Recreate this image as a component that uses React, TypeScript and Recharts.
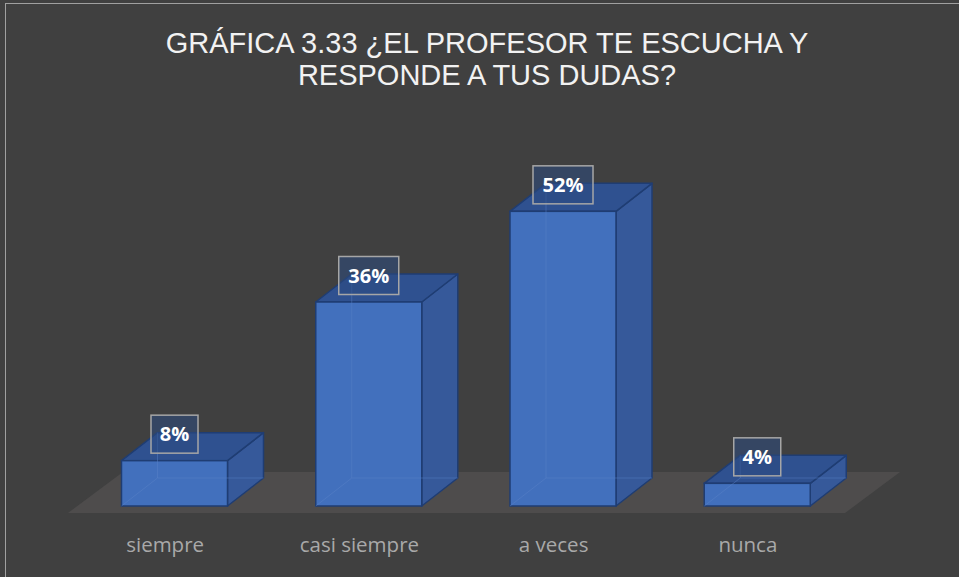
import React from 'react';
import { BarChart, Bar, XAxis, YAxis, ReferenceArea, LabelList } from 'recharts';

const categories = ['siempre', 'casi siempre', 'a veces', 'nunca'];
const percentages = [8, 36, 52, 4];
const valueLabels = ['8%', '36%', '52%', '4%'];
const yDomain = [0, 60];
const titleLines = ['GRÁFICA 3.33 ¿EL PROFESOR TE ESCUCHA Y', 'RESPONDE A TUS DUDAS?'];

const data = categories.map((c, i) => ({ name: c, value: percentages[i], label: valueLabels[i] }));

const W = 959;
const H = 577;
const BAR_DX = 36;
const BAR_DY = -28;
const SHIFT = 9.5;
const FLOOR_DX = 55;
const FLOOR_DY = -41;
const FLOOR_DROP = 7;

const FRONT = '#4270bd';
const TOP = '#2f5190';
const SIDE = '#36599a';
const EDGE = '#1f3d73';

function Bar3D(props: any) {
  const { x, y, width, height } = props;
  if (x == null || y == null) return null;
  const x0 = x + SHIFT;
  const w = width;
  const h = height;
  const top = `${x0},${y} ${x0 + BAR_DX},${y + BAR_DY} ${x0 + w + BAR_DX},${y + BAR_DY} ${x0 + w},${y}`;
  const side = `${x0 + w},${y} ${x0 + w + BAR_DX},${y + BAR_DY} ${x0 + w + BAR_DX},${y + h + BAR_DY} ${x0 + w},${y + h}`;
  return (
    <g>
      <polygon points={side} fill={SIDE} stroke={EDGE} strokeWidth={1.5} strokeLinejoin="round" />
      <polygon points={top} fill={TOP} stroke={EDGE} strokeWidth={1.5} strokeLinejoin="round" />
      <rect x={x0} y={y} width={w} height={h} fill={FRONT} stroke={EDGE} strokeWidth={1.5} />
      <g stroke="#5a82c8" strokeOpacity={0.45} strokeWidth={1} fill="none">
        <line x1={x0} y1={y + h} x2={x0 + BAR_DX} y2={y + h + BAR_DY} />
        <line x1={x0 + BAR_DX} y1={y + h + BAR_DY} x2={x0 + w + BAR_DX} y2={y + h + BAR_DY} />
        <line x1={x0 + BAR_DX} y1={y + BAR_DY} x2={x0 + BAR_DX} y2={y + h + BAR_DY} />
      </g>
    </g>
  );
}

function Floor(props: any) {
  const { x, y, width, height } = props;
  if (x == null || y == null) return null;
  const b = y + height + FLOOR_DROP;
  const pts = `${x},${b} ${x + width},${b} ${x + width + FLOOR_DX},${b + FLOOR_DY} ${x + FLOOR_DX},${b + FLOOR_DY}`;
  return <polygon points={pts} fill="#4e4c4c" stroke="none" />;
}

function ValueLabel(props: any) {
  const { x, y, width, value } = props;
  if (x == null || y == null) return null;
  const text = String(value);
  const cx = x + width / 2 + SHIFT;
  const cy = y - 26.5;
  const bw = 21 + 13 * text.length;
  const bh = 38;
  return (
    <g>
      <rect x={cx - bw / 2} y={cy - bh / 2} width={bw} height={bh} fill="#2b4a80" fillOpacity={0.55} stroke="#a6a6a6" strokeWidth={1.5} />
      <text x={cx} y={cy + 7} textAnchor="middle" fill="#ffffff" fontFamily="'Open Sans', 'Noto Sans', sans-serif" fontWeight={700} fontSize={20}>
        {text}
      </text>
    </g>
  );
}

function CategoryTick(props: any) {
  const { x, y, payload } = props;
  return (
    <text x={x} y={y + 46} textAnchor="middle" fill="#a9a9a9" fontFamily="'Open Sans', 'Noto Sans', sans-serif" fontSize={20.5}>
      {payload.value}
    </text>
  );
}

export default function App() {
  return (
    <div style={{ position: 'absolute', left: 0, top: 0, width: W, height: H, background: '#404040', overflow: 'hidden' }}>
      <div style={{ position: 'absolute', left: 5, top: 3, width: 1200, height: 900, border: '1px solid #a0a0a0', boxSizing: 'border-box' }} />
      <svg width={W} height={120} style={{ position: 'absolute', left: 0, top: 0 }}>
        {titleLines.map((t, i) => (
          <text key={i} x={487} y={53 + i * 32} textAnchor="middle" fill="#f2f2f2" fontFamily="'Liberation Sans', Arial, sans-serif" fontSize={29}>
            {t}
          </text>
        ))}
      </svg>
      <div style={{ position: 'absolute', left: 0, top: 0 }}>
        <BarChart width={W} height={H} data={data} margin={{ top: 166, right: 114, left: 68, bottom: 0 }} barSize={106}>
          <XAxis dataKey="name" axisLine={false} tickLine={false} tickSize={0} tickMargin={0} height={71} interval={0} tick={<CategoryTick />} />
          <YAxis hide domain={yDomain} />
          <ReferenceArea y1={0} y2={1} shape={<Floor />} ifOverflow="visible" />
          <Bar dataKey="value" shape={<Bar3D />} isAnimationActive={false}>
            <LabelList dataKey="label" content={<ValueLabel />} />
          </Bar>
        </BarChart>
      </div>
    </div>
  );
}
